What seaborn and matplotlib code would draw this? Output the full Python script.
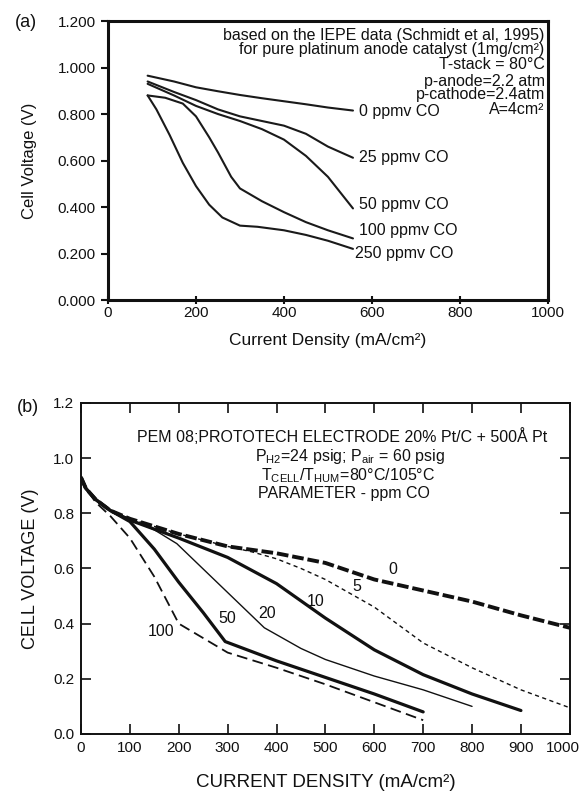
import matplotlib
matplotlib.use("Agg")
import matplotlib.pyplot as plt
import matplotlib.transforms as mtransforms
import seaborn as sns
import numpy as np

sns.set_theme(style="ticks")
plt.rcParams['font.family'] = ['Liberation Sans', 'DejaVu Sans']
plt.rcParams['mathtext.fontset'] = 'custom'
plt.rcParams['mathtext.rm'] = 'Liberation Sans'
plt.rcParams['mathtext.it'] = 'Liberation Sans'

# ---------------- Panel (a) data ----------------
a_I_0 = [90, 150, 200, 250, 300, 350, 400, 450, 500, 557]
a_V_0 = [0.965, 0.94, 0.915, 0.898, 0.882, 0.868, 0.855, 0.842, 0.828, 0.815]
a_I_25 = [90, 150, 200, 250, 300, 350, 400, 450, 500, 557]
a_V_25 = [0.94, 0.895, 0.86, 0.82, 0.79, 0.77, 0.75, 0.715, 0.66, 0.612]
a_I_50 = [90, 150, 200, 250, 300, 350, 400, 450, 500, 557]
a_V_50 = [0.93, 0.88, 0.835, 0.80, 0.77, 0.735, 0.69, 0.62, 0.53, 0.394]
a_I_100 = [90, 130, 170, 200, 230, 250, 280, 300, 350, 400, 450, 500, 557]
a_V_100 = [0.88, 0.87, 0.845, 0.79, 0.70, 0.635, 0.53, 0.48, 0.425, 0.378, 0.335, 0.30, 0.265]
a_I_250 = [90, 110, 140, 170, 200, 230, 260, 300, 340, 400, 450, 500, 557]
a_V_250 = [0.88, 0.82, 0.71, 0.59, 0.49, 0.41, 0.355, 0.32, 0.315, 0.30, 0.28, 0.255, 0.22]
a_labels = ["0 ppmv CO", "25 ppmv CO", "50 ppmv CO", "100 ppmv CO", "250 ppmv CO"]
a_label_x = [570, 570, 570, 570, 562]
a_label_y = [0.813, 0.612, 0.409, 0.30, 0.20]
a_notes = ["based on the IEPE data (Schmidt et al, 1995)",
           "for pure platinum anode catalyst (1mg/cm²)",
           "T-stack = 80°C",
           "p-anode=2.2 atm",
           "p-cathode=2.4atm",
           "A=4cm²"]
a_note_y = [1.138, 1.078, 1.014, 0.942, 0.882, 0.82]

# ---------------- Panel (b) data ----------------
b_I_0 = [0, 10, 30, 60, 100, 200, 300, 400, 500, 600, 700, 800, 900, 1000]
b_V_0 = [0.93, 0.89, 0.85, 0.81, 0.78, 0.725, 0.68, 0.655, 0.62, 0.56, 0.52, 0.48, 0.43, 0.385]
b_I_5 = [0, 10, 30, 60, 100, 200, 300, 350, 400, 450, 500, 550, 600, 700, 800, 900, 1000]
b_V_5 = [0.93, 0.89, 0.85, 0.81, 0.78, 0.725, 0.68, 0.66, 0.635, 0.60, 0.56, 0.51, 0.46, 0.33, 0.24, 0.16, 0.095]
b_I_10 = [0, 10, 30, 60, 100, 200, 300, 400, 500, 600, 700, 800, 900]
b_V_10 = [0.93, 0.89, 0.85, 0.81, 0.775, 0.71, 0.64, 0.545, 0.42, 0.305, 0.215, 0.145, 0.085]
b_I_20 = [0, 10, 30, 60, 100, 150, 196, 375, 450, 500, 600, 700, 800]
b_V_20 = [0.93, 0.89, 0.85, 0.81, 0.78, 0.74, 0.69, 0.385, 0.31, 0.27, 0.21, 0.16, 0.10]
b_I_50 = [0, 10, 30, 60, 100, 150, 200, 250, 295, 400, 500, 600, 700]
b_V_50 = [0.93, 0.89, 0.85, 0.81, 0.77, 0.67, 0.55, 0.44, 0.335, 0.265, 0.205, 0.145, 0.08]
b_I_100 = [0, 10, 30, 60, 100, 150, 200, 300, 400, 500, 600, 700]
b_V_100 = [0.93, 0.89, 0.84, 0.79, 0.71, 0.57, 0.40, 0.295, 0.24, 0.18, 0.115, 0.05]
b_labels = ["0", "5", "10", "20", "50", "100"]
b_label_x = [638, 564, 481, 381, 300, 164]
b_label_y = [0.596, 0.534, 0.48, 0.437, 0.42, 0.371]
b_notes = ["PEM 08;PROTOTECH ELECTRODE 20% Pt/C + 500Å Pt",
           r"P$_{\mathrm{H2}}$=24 psig; P$_{\mathrm{air}}$ = 60 psig",
           r"T$_{\mathrm{CELL}}$/T$_{\mathrm{HUM}}$=80°C/105°C",
           "PARAMETER - ppm CO"]
b_note_x = [534, 551, 546, 538]
b_note_y = [1.08, 1.006, 0.936, 0.87]

fig = plt.figure(figsize=(5.84, 7.91), dpi=100)
fig.patch.set_facecolor("white")
INK = "#111111"

# ---------------- Panel (a) ----------------
axa = fig.add_axes([0.185, 0.6207, 0.753, 0.3527])
for I, V in [(a_I_0, a_V_0), (a_I_25, a_V_25), (a_I_50, a_V_50),
             (a_I_100, a_V_100), (a_I_250, a_V_250)]:
    sns.lineplot(x=I, y=V, ax=axa, color="#1a1a1a", lw=1.5,
                 sort=False, estimator=None)
for lab, x, y in zip(a_labels, a_label_x, a_label_y):
    axa.text(x, y, lab, fontsize=11.5, va="center", ha="left", color=INK)
for t, y in zip(a_notes, a_note_y):
    axa.text(993, y, t, fontsize=11.5, ha="right", va="center", color=INK,
             linespacing=1.0)
axa.set_xlim(0, 1000)
axa.set_ylim(0, 1.2)
axa.set_xticks(np.arange(0, 1001, 200))
axa.set_yticks(np.arange(0, 1.201, 0.2))
axa.set_yticklabels([f"{v:.3f}" for v in np.arange(0, 1.201, 0.2)])
axa.tick_params(axis="x", direction="inout", length=6, width=1.5, labelsize=11,
                colors=INK, pad=1)
axa.tick_params(axis="y", direction="out", length=5, width=1.5, labelsize=11,
                colors=INK, pad=4)
for s in axa.spines.values():
    s.set_linewidth(2.2)
    s.set_color(INK)
    s.set_visible(True)
axa.set_xlabel("Current Density (mA/cm²)", fontsize=12.5, labelpad=10, color=INK)
axa.set_ylabel("Cell Voltage (V)", fontsize=12, labelpad=15, color=INK)
fig.text(0.026, 0.972, "(a)", fontsize=13, va="center", ha="left", color=INK)

# ---------------- Panel (b) ----------------
axb = fig.add_axes([0.1387, 0.0721, 0.837, 0.4185])
styles_b = [
    (b_I_0, b_V_0, 2.8, (3, 1.0)),
    (b_I_5, b_V_5, 1.0, (3, 2.5)),
    (b_I_10, b_V_10, 2.3, None),
    (b_I_20, b_V_20, 1.0, None),
    (b_I_50, b_V_50, 2.3, None),
    (b_I_100, b_V_100, 1.3, (6, 3)),
]
for I, V, lw, dash in styles_b:
    sns.lineplot(x=I, y=V, ax=axb, color=INK, lw=lw,
                 sort=False, estimator=None)
    ln = axb.lines[-1]
    if dash is not None:
        ln.set_dashes(dash)
for lab, x, y in zip(b_labels, b_label_x, b_label_y):
    axb.text(x, y, lab, fontsize=11.5, ha="center", va="center", color=INK)
for t, x, y in zip(b_notes, b_note_x, b_note_y):
    axb.text(x, y, t, fontsize=11.5, ha="center", va="center", color=INK)
axb.set_xlim(0, 1000)
axb.set_ylim(0, 1.2)
axb.set_xticks(np.arange(0, 1001, 100))
axb.set_yticks(np.arange(0, 1.201, 0.2))
axb.set_yticklabels([f"{v:.1f}" for v in np.arange(0, 1.201, 0.2)])
axb.tick_params(direction="in", length=7, width=1.2, labelsize=11, colors=INK,
                top=True, right=True, pad=5)
for s in axb.spines.values():
    s.set_linewidth(1.4)
    s.set_color(INK)
    s.set_visible(True)
# nudge the last x tick label ("1000") left so it stays inside the figure
last = axb.get_xticklabels()[-1]
last.set_transform(last.get_transform() +
                   mtransforms.ScaledTranslation(-5 / 72, 0, fig.dpi_scale_trans))
axb.set_xlabel("CURRENT DENSITY (mA/cm²)", fontsize=13.5, labelpad=14, color=INK)
axb.set_ylabel("CELL VOLTAGE (V)", fontsize=13, labelpad=10, color=INK)
fig.text(0.029, 0.485, "(b)", fontsize=13, va="center", ha="left", color=INK)

fig.savefig("out.png", dpi=100, facecolor="white")
